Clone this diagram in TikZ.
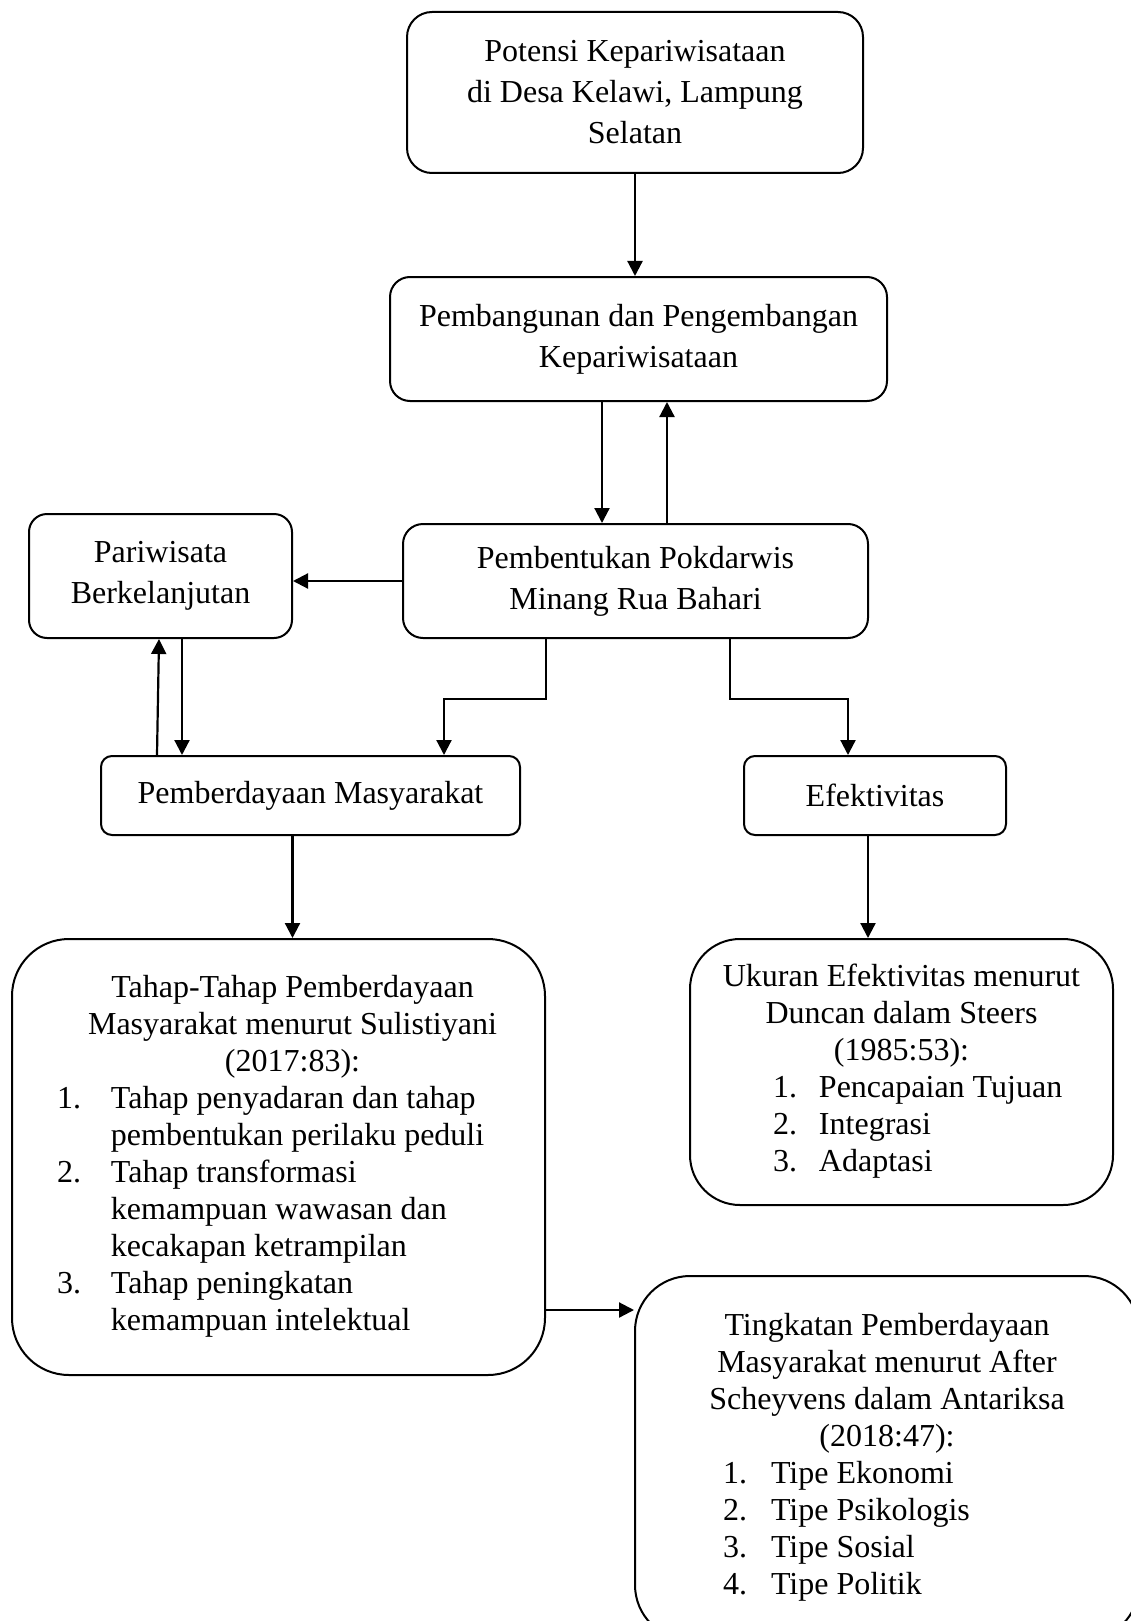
\documentclass[tikz,border=0pt]{standalone}
\usepackage{fontspec}
\setmainfont{Liberation Serif}
\usepackage{tikz}
\usetikzlibrary{arrows.meta, positioning}

\begin{document}
\begin{tikzpicture}[x=1pt, y=-1pt, font=\fontsize{32}{37}\selectfont,
    box/.style={draw, line width=2pt, align=center, inner sep=0pt, font=\fontsize{32}{41}\selectfont},
    listbox/.style={draw, line width=2pt, rounded corners=50pt, inner sep=0pt},
    arr/.style={-{Triangle[width=15pt, length=15pt]}, line width=2.2pt}]
    \useasboundingbox (0, 0) rectangle (1130, 1621);

    \node[box, rounded corners=25pt, minimum width=456pt, minimum height=161pt] (potensi) at (635, 92.5) {Potensi Kepariwisataan\\di Desa Kelawi, Lampung\\Selatan};
    \node[box, rounded corners=20pt, minimum width=497pt, minimum height=124pt] (bangun) at (638.5, 339) {Pembangunan dan Pengembangan\\Kepariwisataan};
    \node[box, rounded corners=20pt, minimum width=465pt, minimum height=114pt] (bentuk) at (635.5, 581) {Pembentukan Pokdarwis\\Minang Rua Bahari};
    \node[box, rounded corners=18pt, minimum width=263pt, minimum height=124pt] (wisata) at (160.5, 576) {Pariwisata\\Berkelanjutan};
    \node[box, rounded corners=11pt, minimum width=419pt, minimum height=79pt] (berdaya) at (310.5, 795.5) {Pemberdayaan Masyarakat};
    \node[box, rounded corners=11pt, minimum width=262pt, minimum height=79pt] (efektif) at (875, 795.5) {Efektivitas};

    \node[listbox, rounded corners=57pt, minimum width=533pt, minimum height=436pt] (tahap) at (278.5, 1157) {%
        \begin{tabular}{@{\hspace{45pt}}p{54pt}@{}p{434pt}@{}}
            \multicolumn{2}{@{\hspace{28pt}}c@{}}{Tahap-Tahap Pemberdayaan}\\
            \multicolumn{2}{@{\hspace{28pt}}c@{}}{Masyarakat menurut Sulistiyani}\\
            \multicolumn{2}{@{\hspace{28pt}}c@{}}{(2017:83):}\\
            1. & Tahap penyadaran dan tahap\\
               & pembentukan perilaku peduli\\
            2. & Tahap transformasi\\
               & kemampuan wawasan dan\\
               & kecakapan ketrampilan\\
            3. & Tahap peningkatan\\
               & kemampuan intelektual
        \end{tabular}};
    \node[listbox, minimum width=423pt, minimum height=266pt] (ukuran) at (901.5, 1072) {%
        \begin{tabular}{@{\hspace{83pt}}p{46pt}@{}p{294pt}@{}}
            \multicolumn{2}{@{}c@{}}{Ukuran Efektivitas menurut}\\
            \multicolumn{2}{@{}c@{}}{Duncan dalam Steers}\\
            \multicolumn{2}{@{}c@{}}{(1985:53):}\\
            1. & Pencapaian Tujuan\\
            2. & Integrasi\\
            3. & Adaptasi
        \end{tabular}};
    \node[listbox, rounded corners=55pt, minimum width=504pt, minimum height=364pt] (tingkat) at (887, 1458) {%
        \begin{tabular}{@{\hspace{88pt}}p{48pt}@{}p{368pt}@{}}
            \multicolumn{2}{@{}c@{}}{Tingkatan Pemberdayaan}\\
            \multicolumn{2}{@{}c@{}}{Masyarakat menurut After}\\
            \multicolumn{2}{@{}c@{}}{Scheyvens dalam Antariksa}\\
            \multicolumn{2}{@{}c@{}}{(2018:47):}\\
            1. & Tipe Ekonomi\\
            2. & Tipe Psikologis\\
            3. & Tipe Sosial\\
            4. & Tipe Politik
        \end{tabular}};

    \draw[arr] (potensi.south) -- (potensi.south |- bangun.north);
    \draw[arr] ([xshift=-36.5pt]bangun.south) -- ([xshift=-36.5pt]bangun.south |- bentuk.north);
    \draw[arr] ([xshift=31.5pt]bentuk.north) -- ([xshift=31.5pt]bentuk.north |- bangun.south);
    \draw[arr] (bentuk.west) -- (bentuk.west -| wisata.east);
    \draw[arr] ([xshift=-153.5pt]berdaya.north) -- ([xshift=-1.5pt]wisata.south);
    \draw[arr] ([xshift=21.5pt]wisata.south) -- ([xshift=21.5pt]wisata.south |- berdaya.north);
    \draw[arr] ([xshift=-89.5pt]bentuk.south) -- ++(0, 60) -| ([xshift=133.5pt]berdaya.north);
    \draw[arr] ([xshift=94.5pt]bentuk.south) -- ++(0, 60) -| ([xshift=-27pt]efektif.north);
    \draw[arr] ([xshift=-18pt]berdaya.south) -- ([xshift=-18pt]berdaya.south |- tahap.north);
    \draw[arr] ([xshift=-7pt]efektif.south) -- ([xshift=-7pt]efektif.south |- ukuran.north);
    \draw[arr] ([yshift=-153pt]tahap.east) -- ([yshift=-153pt]tahap.east -| tingkat.west);
\end{tikzpicture}
\end{document}
